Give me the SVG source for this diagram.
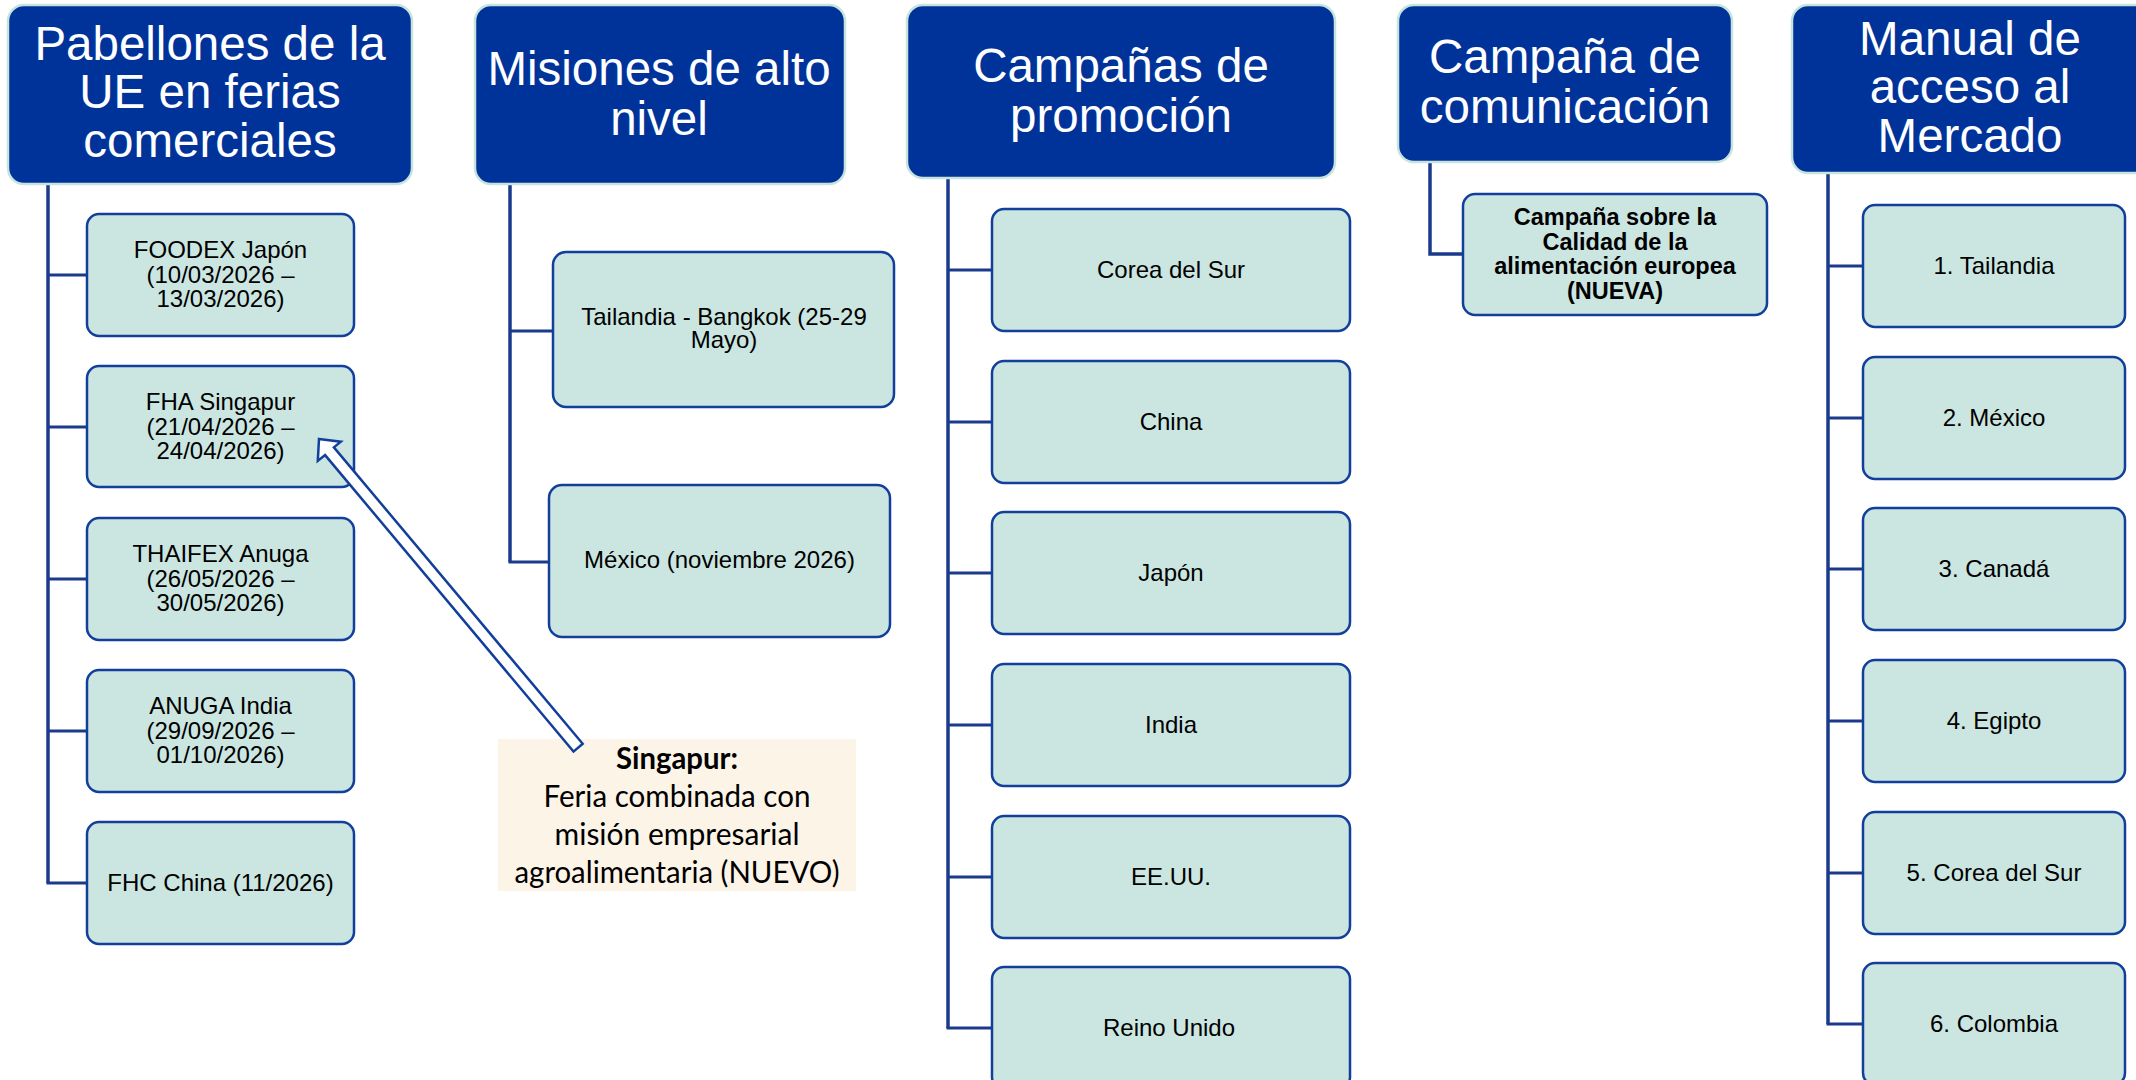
<svg xmlns="http://www.w3.org/2000/svg" width="2136" height="1080" viewBox="0 0 2136 1080">
<style>
.hdr{fill:#003399;stroke:#c6e4dd;stroke-width:2.5}
.hdr-t{font-family:"Liberation Sans",Arial,sans-serif;font-size:47.5px;fill:#ffffff;text-anchor:middle}
.box{fill:#cbe6e0;stroke:#123f9c;stroke-width:2.5}
.box-t{font-family:"Liberation Sans",Arial,sans-serif;font-size:24px;fill:#000000;text-anchor:middle}
.bold{font-weight:bold;font-size:23.5px}
.conn{stroke:#1b3a8c;stroke-width:3;fill:none}
.trunk{stroke:#1b3a8c;stroke-width:3.5;fill:none}
.note{fill:#fdf4e8}
.note-t{font-family:Lato,"Open Sans",sans-serif;font-size:30px;fill:#000000;text-anchor:middle}
.arrow{fill:#ffffff;stroke:#123f9c;stroke-width:2.5;stroke-linejoin:miter}
</style>
<rect width="2136" height="1080" fill="#ffffff"/>

<g id="connectors">
  <polyline class="trunk" points="48,184 48,883"/>
  <line class="conn" x1="48" y1="275" x2="87" y2="275"/>
  <line class="conn" x1="48" y1="427" x2="87" y2="427"/>
  <line class="conn" x1="48" y1="579" x2="87" y2="579"/>
  <line class="conn" x1="48" y1="731" x2="87" y2="731"/>
  <line class="conn" x1="46.5" y1="883" x2="87" y2="883"/>

  <polyline class="trunk" points="510,184 510,562"/>
  <line class="conn" x1="510" y1="331" x2="553" y2="331"/>
  <line class="conn" x1="508.5" y1="562" x2="549" y2="562"/>

  <polyline class="trunk" points="948,178 948,1028"/>
  <line class="conn" x1="948" y1="270" x2="992" y2="270"/>
  <line class="conn" x1="948" y1="422" x2="992" y2="422"/>
  <line class="conn" x1="948" y1="573" x2="992" y2="573"/>
  <line class="conn" x1="948" y1="725" x2="992" y2="725"/>
  <line class="conn" x1="948" y1="877" x2="992" y2="877"/>
  <line class="conn" x1="946.5" y1="1028" x2="992" y2="1028"/>

  <polyline class="trunk" points="1430,162 1430,254 1463,254"/>

  <polyline class="trunk" points="1828,173 1828,1024"/>
  <line class="conn" x1="1828" y1="266" x2="1863" y2="266"/>
  <line class="conn" x1="1828" y1="418" x2="1863" y2="418"/>
  <line class="conn" x1="1828" y1="569" x2="1863" y2="569"/>
  <line class="conn" x1="1828" y1="721" x2="1863" y2="721"/>
  <line class="conn" x1="1828" y1="873" x2="1863" y2="873"/>
  <line class="conn" x1="1826.5" y1="1024" x2="1863" y2="1024"/>
</g>

<!-- Headers -->
<g id="hdr-pabellones">
  <rect class="hdr" x="8" y="5" width="404" height="179" rx="16"/>
  <text class="hdr-t" x="210" y="60">Pabellones de la</text>
  <text class="hdr-t" x="210" y="108">UE en ferias</text>
  <text class="hdr-t" x="210" y="157">comerciales</text>
</g>
<g id="hdr-misiones">
  <rect class="hdr" x="475" y="5" width="370" height="179" rx="16"/>
  <text class="hdr-t" x="659" y="85">Misiones de alto</text>
  <text class="hdr-t" x="659" y="135">nivel</text>
</g>
<g id="hdr-campanas">
  <rect class="hdr" x="907" y="5" width="428" height="173" rx="16"/>
  <text class="hdr-t" x="1121" y="82">Campañas de</text>
  <text class="hdr-t" x="1121" y="132">promoción</text>
</g>
<g id="hdr-comunicacion">
  <rect class="hdr" x="1398" y="5" width="334" height="157" rx="16"/>
  <text class="hdr-t" x="1565" y="73">Campaña de</text>
  <text class="hdr-t" x="1565" y="123">comunicación</text>
</g>
<g id="hdr-manual">
  <rect class="hdr" x="1792" y="5" width="360" height="168" rx="16"/>
  <text class="hdr-t" x="1970" y="55">Manual de</text>
  <text class="hdr-t" x="1970" y="103">acceso al</text>
  <text class="hdr-t" x="1970" y="152">Mercado</text>
</g>

<!-- Pabellones children -->
<g id="foodex">
  <rect class="box" x="87" y="214" width="267" height="122" rx="12"/>
  <text class="box-t" x="220.5" y="258">FOODEX Japón</text>
  <text class="box-t" x="220.5" y="282.5">(10/03/2026 –</text>
  <text class="box-t" x="220.5" y="307">13/03/2026)</text>
</g>
<g id="fha">
  <rect class="box" x="87" y="366" width="267" height="121" rx="12"/>
  <text class="box-t" x="220.5" y="410">FHA Singapur</text>
  <text class="box-t" x="220.5" y="434.5">(21/04/2026 –</text>
  <text class="box-t" x="220.5" y="459">24/04/2026)</text>
</g>
<g id="thaifex">
  <rect class="box" x="87" y="518" width="267" height="122" rx="12"/>
  <text class="box-t" x="220.5" y="562">THAIFEX Anuga</text>
  <text class="box-t" x="220.5" y="586.5">(26/05/2026 –</text>
  <text class="box-t" x="220.5" y="611">30/05/2026)</text>
</g>
<g id="anuga">
  <rect class="box" x="87" y="670" width="267" height="122" rx="12"/>
  <text class="box-t" x="220.5" y="714">ANUGA India</text>
  <text class="box-t" x="220.5" y="738.5">(29/09/2026 –</text>
  <text class="box-t" x="220.5" y="763">01/10/2026)</text>
</g>
<g id="fhc">
  <rect class="box" x="87" y="822" width="267" height="122" rx="12"/>
  <text class="box-t" x="220.5" y="891">FHC China (11/2026)</text>
</g>

<!-- Misiones children -->
<g id="mis-tailandia">
  <rect class="box" x="553" y="252" width="341" height="155" rx="13"/>
  <text class="box-t" x="724" y="325">Tailandia - Bangkok (25-29</text>
  <text class="box-t" x="724" y="348">Mayo)</text>
</g>
<g id="mis-mexico">
  <rect class="box" x="549" y="485" width="341" height="152" rx="13"/>
  <text class="box-t" x="719.5" y="568">México (noviembre 2026)</text>
</g>

<!-- Campañas children -->
<g id="cp-corea">
  <rect class="box" x="992" y="209" width="358" height="122" rx="12"/>
  <text class="box-t" x="1171" y="278">Corea del Sur</text>
</g>
<g id="cp-china">
  <rect class="box" x="992" y="361" width="358" height="122" rx="12"/>
  <text class="box-t" x="1171" y="430">China</text>
</g>
<g id="cp-japon">
  <rect class="box" x="992" y="512" width="358" height="122" rx="12"/>
  <text class="box-t" x="1171" y="581">Japón</text>
</g>
<g id="cp-india">
  <rect class="box" x="992" y="664" width="358" height="122" rx="12"/>
  <text class="box-t" x="1171" y="733">India</text>
</g>
<g id="cp-eeuu">
  <rect class="box" x="992" y="816" width="358" height="122" rx="12"/>
  <text class="box-t" x="1171" y="885">EE.UU.</text>
</g>
<g id="cp-reino">
  <rect class="box" x="992" y="967" width="358" height="122" rx="12"/>
  <text class="box-t" x="1169" y="1036">Reino Unido</text>
</g>

<!-- Comunicación child -->
<g id="com-calidad">
  <rect class="box" x="1463" y="194" width="304" height="121" rx="12"/>
  <text class="box-t bold" x="1615" y="225">Campaña sobre la</text>
  <text class="box-t bold" x="1615" y="249.5">Calidad de la</text>
  <text class="box-t bold" x="1615" y="274">alimentación europea</text>
  <text class="box-t bold" x="1615" y="298.5">(NUEVA)</text>
</g>

<!-- Manual children -->
<g id="m-tailandia">
  <rect class="box" x="1863" y="205" width="262" height="122" rx="12"/>
  <text class="box-t" x="1994" y="274">1. Tailandia</text>
</g>
<g id="m-mexico">
  <rect class="box" x="1863" y="357" width="262" height="122" rx="12"/>
  <text class="box-t" x="1994" y="426">2. México</text>
</g>
<g id="m-canada">
  <rect class="box" x="1863" y="508" width="262" height="122" rx="12"/>
  <text class="box-t" x="1994" y="577">3. Canadá</text>
</g>
<g id="m-egipto">
  <rect class="box" x="1863" y="660" width="262" height="122" rx="12"/>
  <text class="box-t" x="1994" y="729">4. Egipto</text>
</g>
<g id="m-corea">
  <rect class="box" x="1863" y="812" width="262" height="122" rx="12"/>
  <text class="box-t" x="1994" y="881">5. Corea del Sur</text>
</g>
<g id="m-colombia">
  <rect class="box" x="1863" y="963" width="262" height="122" rx="12"/>
  <text class="box-t" x="1994" y="1032">6. Colombia</text>
</g>

<!-- Callout -->
<g id="callout">
  <rect class="note" x="498" y="739" width="358" height="152"/>
  <text class="note-t" x="677" y="769" font-weight="bold" textLength="122" lengthAdjust="spacingAndGlyphs">Singapur:</text>
  <text class="note-t" x="677" y="807" textLength="267" lengthAdjust="spacingAndGlyphs">Feria combinada con</text>
  <text class="note-t" x="677" y="845" textLength="245" lengthAdjust="spacingAndGlyphs">misión empresarial</text>
  <text class="note-t" x="677" y="883" textLength="325" lengthAdjust="spacingAndGlyphs">agroalimentaria (NUEVO)</text>
</g>
<g id="callout-arrow">
  <polygon class="arrow" points="319,439 340.8,441.7 333.9,447.4 582.7,743.8 573.5,751.6 325.1,455.1 317.8,460.9"/>
</g>
</svg>
